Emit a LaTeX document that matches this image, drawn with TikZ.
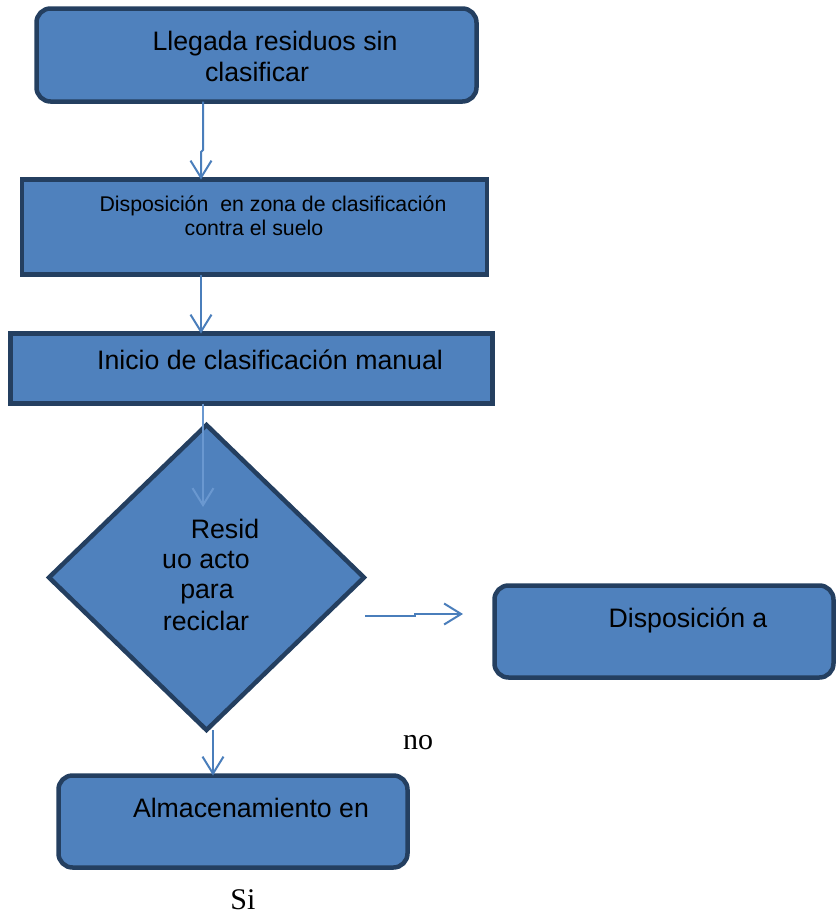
\documentclass[tikz,border=0pt]{standalone}
\usepackage{fontspec}
\setmainfont{Liberation Sans}
\newfontfamily\serifface{Liberation Serif}
\usetikzlibrary{shapes.geometric,arrows.meta}
\definecolor{boxfill}{HTML}{4F81BD}
\definecolor{boxline}{HTML}{243F60}
\definecolor{flow}{HTML}{4A7EBB}
\definecolor{flowlight}{HTML}{6A98D0}
\begin{document}
\begin{tikzpicture}[x=1pt,y=-1pt,
  stepbox/.style={draw=boxline,fill=boxfill,line width=4.5pt,inner sep=0pt,outer sep=0pt},
  roundbox/.style={stepbox,rounded corners=14pt},
  decision/.style={stepbox,shape=diamond},
  lbl/.style={anchor=base,inner sep=0pt,text=black,font=\fontsize{26.7}{30}\selectfont},
  smalllbl/.style={lbl,font=\fontsize{21.3}{24}\selectfont},
  serlbl/.style={anchor=base,inner sep=0pt,font=\serifface\fontsize{30}{34}\selectfont},
  flowline/.style={draw=flow,line width=2pt,-{Straight Barb[length=17pt,width=21pt]}}]
\useasboundingbox (0,0) rectangle (836,916);

% process boxes
\node[roundbox,minimum width=440pt,minimum height=93pt] (b1) at (256.5,55) {};
\node[stepbox,minimum width=465pt,minimum height=95pt] (b2) at (254.5,227) {};
\node[stepbox,minimum width=482pt,minimum height=70pt] (b3) at (251.5,368.5) {};
\node[decision,minimum width=315pt,minimum height=305pt] (d) at (206.5,577.5) {};
\node[roundbox,minimum width=339pt,minimum height=92pt] (b4) at (664,631.5) {};
\node[roundbox,minimum width=349pt,minimum height=92pt] (b5) at (233,821.5) {};

% texts
\node[lbl] (t1a) at (275,50) {Llegada residuos sin};
\node[lbl] (t1b) at (257,81) {clasificar};
\node[smalllbl] (t2a) at (273,211) {Disposición \ en zona de clasificación};
\node[smalllbl] (t2b) at (254,235) {contra el suelo};
\node[lbl] (t3) at (270,369) {Inicio de clasificación manual};
\node[lbl] (td1) at (225,538) {Resid};
\node[lbl] (td2) at (206,568) {uo acto};
\node[lbl] (td3) at (207,598) {para};
\node[lbl] (td4) at (206,630) {reciclar};
\node[lbl] (t4) at (688,627) {Disposición a};
\node[lbl] (t5) at (251,817) {Almacenamiento en};
\node[serlbl] (no) at (418,749) {no};
\node[serlbl] (si) at (243,909) {Si};

% connector waypoints
\coordinate (x1) at (203,0);
\coordinate (j1a) at (203,150);
\coordinate (j1b) at (201,152);
\coordinate (x2) at (201,0);
\coordinate (x3) at (203,0);
\coordinate (e3) at (203,507);
\coordinate (r0) at (365,616);
\coordinate (r1) at (415,616);
\coordinate (r2) at (415,614);
\coordinate (r3) at (463,614);
\coordinate (x5) at (213,0);

% connectors
\draw[flowline] (b1.south -| x1) -- (j1a) -- (j1b) -- (b2.north -| x2);
\draw[flowline] (b2.south -| x2) -- (b3.north -| x2);
\draw[flowline,draw=flowlight] (b3.south -| x3) -- (e3);
\draw[flowline] (r0) -- (r1) -- (r2) -- (r3);
\draw[flowline] (d.south -| x5) -- (b5.north -| x5);
\end{tikzpicture}
\end{document}
